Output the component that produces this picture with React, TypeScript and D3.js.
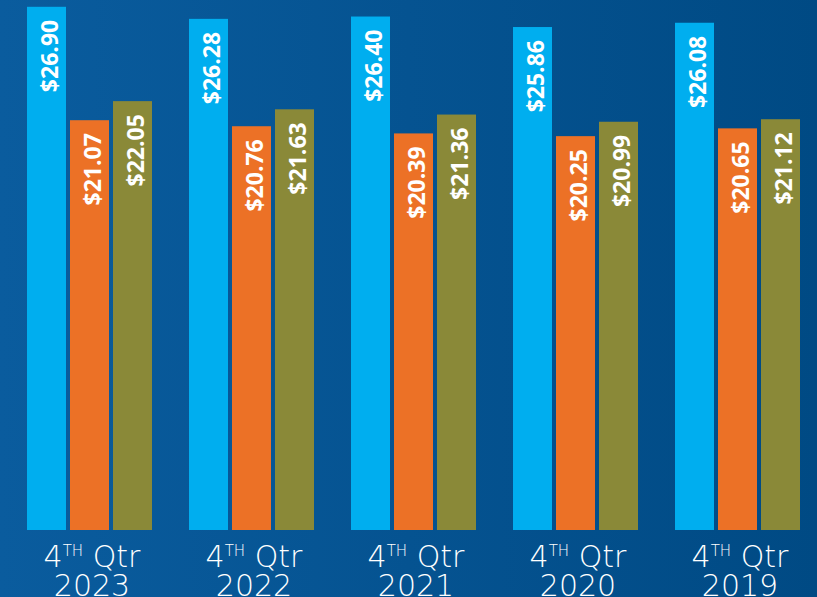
import React from "react";
import * as d3 from "d3";

const categories = ["2023", "2022", "2021", "2020", "2019"];
const series = ["s1", "s2", "s3"];
const seriesA = [26.9, 26.28, 26.4, 25.86, 26.08];
const seriesB = [21.07, 20.76, 20.39, 20.25, 20.65];
const seriesC = [22.05, 21.63, 21.36, 20.99, 21.12];
const colors = ["#00AEEF", "#EC7126", "#8A8938"];

const W = 817;
const H = 597;

export default function App() {
  const values = [seriesA, seriesB, seriesC];
  const baseline = 530;
  const y = d3.scaleLinear().domain([0, 26.9]).range([baseline, 6.8]);
  const x0 = d3.scaleBand<string>().domain(categories).range([27, 27 + 162 * 5]).paddingInner(0).paddingOuter(0);
  const x1 = d3.scaleBand<string>().domain(series).range([0, 125]).paddingInner(4 / 43).paddingOuter(0);
  const fmt = (v: number) => "$" + d3.format(".2f")(v);

  return (
    <svg width={W} height={H} style={{ position: "absolute", left: 0, top: 0, display: "block" }}>
      <defs>
        <linearGradient id="bg" x1="0" y1="0" x2="1" y2="0">
          <stop offset="0" stopColor="#0A5C9E" />
          <stop offset="1" stopColor="#004A84" />
        </linearGradient>
      </defs>
      <rect x={0} y={0} width={W} height={H} fill="url(#bg)" />
      {categories.map((c, i) => {
        const gx = x0(c)!;
        const cx = gx + 125 / 2 + 2.5;
        return (
          <g key={c}>
            {series.map((s, j) => {
              const v = values[j][i];
              const bx = gx + x1(s)!;
              const bw = x1.bandwidth();
              const ty = y(v);
              return (
                <g key={s}>
                  <rect x={bx} y={ty} width={bw} height={baseline - ty} fill={colors[j]} />
                  <text
                    transform={`translate(${bx + bw / 2 + 2},${ty + 13}) rotate(-90)`}
                    textAnchor="end"
                    dominantBaseline="central"
                    fill="#fff"
                    fontFamily="'Open Sans', sans-serif"
                    fontWeight={700}
                    fontSize={23}
                  >
                    {fmt(v)}
                  </text>
                </g>
              );
            })}
            <text
              x={cx}
              y={567}
              textAnchor="middle"
              fill="#fff"
              fontFamily="'DejaVu Sans', sans-serif"
              fontWeight={200}
              fontSize={30}
            >
              <tspan>4</tspan>
              <tspan fontSize={15} dy={-11}>TH</tspan>
              <tspan dy={11}> Qtr</tspan>
            </text>
            <text
              x={cx}
              y={596}
              textAnchor="middle"
              fill="#fff"
              fontFamily="'DejaVu Sans', sans-serif"
              fontWeight={200}
              fontSize={30}
            >
              {c}
            </text>
          </g>
        );
      })}
    </svg>
  );
}
